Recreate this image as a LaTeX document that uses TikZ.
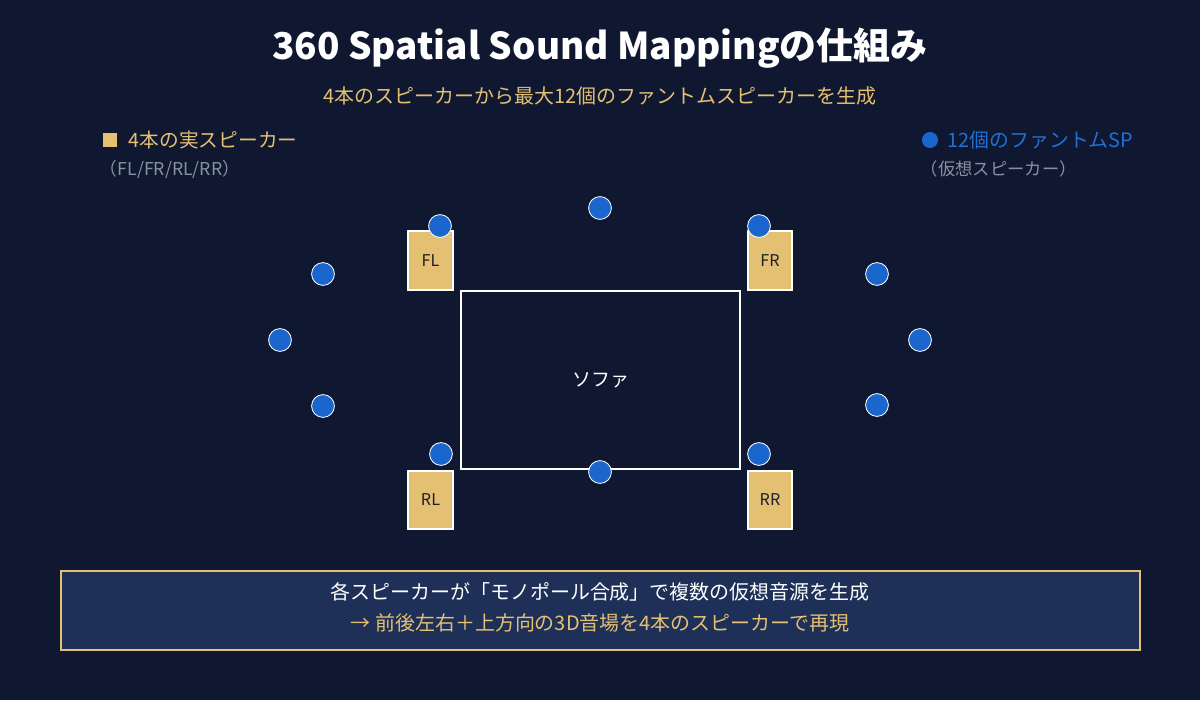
\documentclass[tikz,border=0pt]{standalone}
\usepackage{fontspec}
\setmainfont{Noto Sans CJK JP}
\usepackage{tikz}

\definecolor{bgnavy}{RGB}{15,24,48}
\definecolor{boxnavy}{RGB}{30,48,88}
\definecolor{gold}{RGB}{228,192,115}
\definecolor{phblue}{RGB}{26,102,204}
\definecolor{legblue}{RGB}{32,112,214}
\definecolor{subgray}{RGB}{135,145,162}
\definecolor{darktext}{RGB}{30,30,40}

\tikzset{
  realsp/.style={draw=white, line width=1.4pt, fill=gold, minimum width=1.12cm, minimum height=1.47cm, inner sep=0pt, text=darktext, font=\fontsize{11.5}{13}\selectfont},
  phantom/.style={circle, draw=white, line width=0.6pt, fill=phblue, minimum size=0.57cm, inner sep=0pt},
}

\begin{document}
\begin{tikzpicture}[x=0.025cm, y=-0.025cm]
    \fill[bgnavy] (0,0) rectangle (1200,700);
    \useasboundingbox (0,0) rectangle (1200,700);

    \node (title) at (600,48) [text=white, font=\fontsize{26.3}{31}\selectfont\bfseries] {360 Spatial Sound Mappingの仕組み};
    \node (subtitle) at (600,96) [text=gold, font=\fontsize{14.2}{16}\selectfont] {4本のスピーカーから最大12個のファントムスピーカーを生成};

    % legend
    \node (legsq) at (110,140) [fill=gold, minimum size=0.35cm, inner sep=0pt] {};
    \node (legreal) at (124,140) [anchor=west, text=gold, font=\fontsize{14}{16}\selectfont] {4本の実スピーカー};
    \node (legrealsub) at (95,169) [anchor=west, text=subgray, font=\fontsize{12.6}{14}\selectfont] {（FL/FR/RL/RR）};
    \node (legdot) at (930,140) [circle, fill=phblue, minimum size=0.4cm, inner sep=0pt] {};
    \node (legph) at (943,140) [anchor=west, text=legblue, font=\fontsize{14.1}{16}\selectfont] {12個のファントムSP};
    \node (legphsub) at (916,169) [anchor=west, text=subgray, font=\fontsize{12.3}{14}\selectfont] {（仮想スピーカー）};

    % sofa
    \node (sofa) at (600.5,380) [draw=white, line width=1.4pt, minimum width=6.97cm, minimum height=4.45cm, inner sep=0pt, text=white, font=\fontsize{13.5}{15}\selectfont] {ソファ};

    % real speakers
    \node (fl) at (430.5,260.5) [realsp] {FL};
    \node (fr) at (770,260.5) [realsp] {FR};
    \node (rl) at (430.5,500) [realsp] {RL};
    \node (rr) at (770,500) [realsp] {RR};

    % phantom speakers
    \foreach \name/\px/\py in {p1/600/208, p2/440/226, p3/759/226, p4/323/274, p5/877/274, p6/280/340,
                               p7/920/340, p8/323/406, p9/877/405, p10/441/454, p11/759/454, p12/600/472} {
      \node (\name) at (\px,\py) [phantom] {};
    }

    % note box
    \node (note) at (600.5,610.5) [draw=gold, line width=1.2pt, fill=boxnavy, minimum width=26.97cm, minimum height=1.97cm, inner sep=0pt] {};
    \node (note1) at (600,592) [text=white, font=\fontsize{14.2}{16}\selectfont] {各スピーカーが「モノポール合成」で複数の仮想音源を生成};
    \node (note2) at (600,623) [text=gold, font=\fontsize{14.2}{16}\selectfont] {→ 前後左右＋上方向の3D音場を4本のスピーカーで再現};
\end{tikzpicture}
\end{document}
